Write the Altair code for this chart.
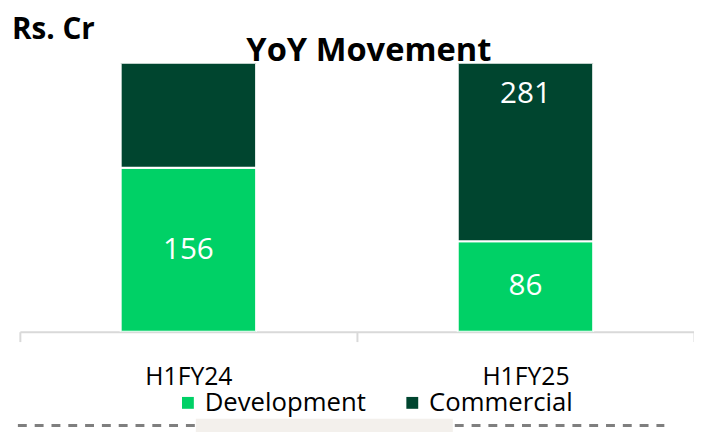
import altair as alt
import pandas as pd

# ---- data ----
categories = ["H1FY24", "H1FY25"]
segments = ["Development", "Commercial"]
development = [156, 86]
commercial = [250, 281]   # H1FY24 commercial runs past the visible axis; its label is off-plot
colors = ["#00D166", "#00452F"]
y_max = 255               # visible axis maximum (bars are clipped above it)

rows = []
for i, cat in enumerate(categories):
    base = 0
    for j, (seg, vals) in enumerate(zip(segments, [development, commercial])):
        v = vals[i]
        rows.append({"period": cat, "segment": seg, "order": j, "value": v,
                     "mid": base + v / 2})
        base += v
df = pd.DataFrame(rows)
labels_df = df[df["mid"] <= y_max]

W, H = 682, 271
FONT = "Open Sans"

x_scale = alt.Scale(domain=categories, paddingInner=0, paddingOuter=0)
x_enc = alt.X("period:N", sort=categories, title=None, scale=x_scale,
              axis=alt.Axis(labelAngle=0, labelFontSize=25, labelColor="#000000",
                            labelFont=FONT, labelPadding=23,
                            domainColor="#d9d9d9", domainWidth=2,
                            tickColor="#d9d9d9", tickWidth=2, tickSize=10,
                            tickBand="extent", grid=False))

bars = alt.Chart(df).mark_bar(clip=True, stroke="white", strokeWidth=2, width=137).encode(
    x=x_enc,
    y=alt.Y("value:Q", stack="zero", scale=alt.Scale(domain=[0, y_max]), axis=None),
    color=alt.Color("segment:N", sort=segments,
                    scale=alt.Scale(domain=segments, range=colors),
                    legend=alt.Legend(title=None, orient="none", direction="horizontal",
                                      legendX=157, legendY=330,
                                      symbolType="square", symbolSize=144,
                                      symbolStrokeWidth=0,
                                      labelFontSize=26, labelFont=FONT, labelLimit=400,
                                      labelColor="#000000", labelOffset=4,
                                      columnPadding=33)),
    order=alt.Order("order:Q"),
)

labels = alt.Chart(labels_df).mark_text(color="white", fontSize=30, font=FONT,
                                        baseline="middle").encode(
    x=alt.X("period:N", sort=categories, scale=x_scale),
    y=alt.Y("mid:Q", scale=alt.Scale(domain=[0, y_max])),
    text=alt.Text("value:Q"),
)

one = pd.DataFrame({"t": ["x"]})
unit = alt.Chart(one).mark_text(text="Rs. Cr", fontSize=30, fontWeight="bold",
                                font=FONT, align="left", baseline="middle",
                                color="#000000").encode(
    x=alt.value(-8), y=alt.value(-34))
title = alt.Chart(one).mark_text(text="YoY Movement", fontSize=33, fontWeight="bold",
                                 font=FONT, align="center", baseline="middle",
                                 color="#000000").encode(
    x=alt.value(353), y=alt.value(-13))

dash = alt.Chart(one).mark_rule(color="#7f7f7f", strokeWidth=3,
                                strokeDash=[9, 8]).encode(
    x=alt.value(-2), x2=alt.value(652), y=alt.value(366))
beige = alt.Chart(one).mark_rect(color="#f3f0ec").encode(
    x=alt.value(178), x2=alt.value(438), y=alt.value(359), y2=alt.value(375))

chart = alt.layer(dash, beige, bars, labels, unit, title).properties(
    width=W, height=H,
    autosize=alt.AutoSizeParams(type="none"),
    padding={"left": 12, "top": 54, "right": 0, "bottom": 99},
).configure_view(stroke=None)

chart.save("out.html", embed_options={"renderer": "svg", "actions": False})
